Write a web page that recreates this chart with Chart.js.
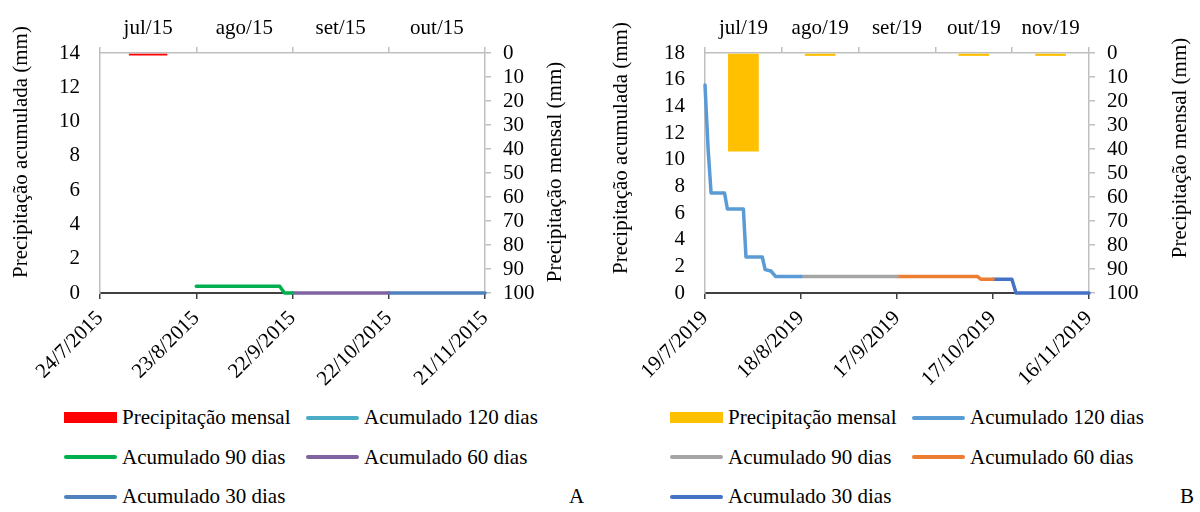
<!DOCTYPE html>
<html>
<head>
<meta charset="utf-8">
<script src="https://cdn.jsdelivr.net/npm/chart.js@4.4.0/dist/chart.umd.min.js"></script>
<style>
  body { margin: 0; background: #fff; font-family: "Liberation Serif", "Times New Roman", serif; }
  #wrap { position: relative; width: 1200px; height: 512px; overflow: hidden; }
  .panel { position: absolute; top: 0; width: 600px; height: 512px; }
  .panel canvas { position: absolute; left: 0; top: 0; }
  .legend { position: absolute; top: 398px; display: grid; grid-template-columns: 242px auto; grid-auto-rows: 39.5px; font-size: 21px; color: #000; }
  .item { display: flex; align-items: center; white-space: nowrap; }
  .sym { width: 53px; margin-right: 5px; }
  .tag { position: absolute; top: 484px; font-size: 21px; color: #000; }
</style>
</head>
<body>
<div id="wrap">
  <div class="panel" style="left:0">
    <canvas id="chartA" width="600" height="390"></canvas>
    <div class="legend" id="legendA" style="left:64px"></div>
    <div class="tag" style="left:569px">A</div>
  </div>
  <div class="panel" style="left:600px">
    <canvas id="chartB" width="600" height="390"></canvas>
    <div class="legend" id="legendB" style="left:70px"></div>
    <div class="tag" style="left:580px">B</div>
  </div>
</div>
<script>
// Painel A - 2015
const monthsA = ['jul/15', 'ago/15', 'set/15', 'out/15'];
const datesA = ['24/7/2015', '23/8/2015', '22/9/2015', '22/10/2015', '21/11/2015'];
const monthlyA = [1, null, null, null];
const acc120A = [];
const acc90A = [[30, 0.4], [56, 0.4], [57.5, 0], [60, 0]];
const acc60A = [[60, 0], [90, 0]];
const acc30A = [[90, 0], [120, 0]];

// Painel B - 2019
const monthsB = ['jul/19', 'ago/19', 'set/19', 'out/19', 'nov/19'];
const datesB = ['19/7/2019', '18/8/2019', '17/9/2019', '17/10/2019', '16/11/2019'];
const monthlyB = [41, 1.2, null, 1.2, 1.2];
const acc120B = [[0, 15.6], [1, 10.7], [1.9, 7.5], [6.1, 7.5], [7, 6.3], [12, 6.3], [12.8, 2.7],
                 [17.9, 2.7], [18.8, 1.75], [20.6, 1.65], [22.1, 1.23], [30, 1.23]];
const acc90B = [[30, 1.23], [60, 1.23]];
const acc60B = [[60, 1.23], [85.2, 1.23], [86.2, 1.03], [90, 1.03]];
const acc30B = [[90, 1.03], [95.9, 1.03], [97.2, 0], [120, 0]];

const FONT = { family: '"Liberation Serif", "Times New Roman", serif', size: 21 };

// titulos dos eixos verticais (ambos lidos de baixo para cima)
const sideTitles = {
    id: 'sideTitles',
    afterDraw(chart, args, opts) {
        const ctx = chart.ctx;
        ctx.save();
        ctx.font = `${FONT.size}px ${FONT.family}`;
        ctx.fillStyle = '#000';
        ctx.textAlign = 'center';
        ctx.textBaseline = 'middle';
        opts.items.forEach(t => {
            ctx.save();
            ctx.translate(t.x, t.y);
            ctx.rotate(-Math.PI / 2);
            ctx.fillText(t.text, 0, 0);
            ctx.restore();
        });
        ctx.restore();
    }
};

function toXY(pairs) {
    return pairs.map(p => ({ x: p[0], y: p[1] }));
}

function lineSet(label, pairs, color) {
    return {
        type: 'line',
        label: label,
        data: toXY(pairs),
        borderColor: color,
        backgroundColor: color,
        borderWidth: 3.5,
        pointRadius: 0,
        tension: 0,
        borderCapStyle: 'round',
        borderJoinStyle: 'round',
        clip: false,
        xAxisID: 'x',
        yAxisID: 'y'
    };
}

function makeChart(cfg) {
    const ctx = document.getElementById(cfg.canvas).getContext('2d');
    const chart = new Chart(ctx, {
        type: 'line',
        data: {
            datasets: [
                {
                    type: 'bar',
                    label: 'Precipitação mensal',
                    data: cfg.monthly,
                    backgroundColor: cfg.colors[0],
                    borderWidth: 0,
                    grouped: false,
                    barPercentage: 0.4,
                    categoryPercentage: 1,
                    xAxisID: 'xTop',
                    yAxisID: 'y2'
                },
                lineSet('Acumulado 120 dias', cfg.acc120, cfg.colors[1]),
                lineSet('Acumulado 90 dias', cfg.acc90, cfg.colors[2]),
                lineSet('Acumulado 60 dias', cfg.acc60, cfg.colors[3]),
                lineSet('Acumulado 30 dias', cfg.acc30, cfg.colors[4])
            ]
        },
        options: {
            responsive: false,
            animation: false,
            events: [],
            layout: { padding: 0 },
            plugins: {
                legend: { display: false },
                tooltip: { enabled: false },
                sideTitles: { items: cfg.titles }
            },
            scales: {
                x: {
                    type: 'linear',
                    position: 'bottom',
                    min: 0,
                    max: 120,
                    ticks: {
                        stepSize: 30,
                        autoSkip: false,
                        maxRotation: 45,
                        minRotation: 45,
                        padding: 7,
                        color: '#000',
                        font: FONT,
                        callback: (v, i) => cfg.dates[i]
                    },
                    grid: { drawOnChartArea: false, tickLength: 6, color: '#404040', lineWidth: 1.5 },
                    border: { color: '#404040', width: 2 },
                    afterFit: s => { s.height = 97; }
                },
                xTop: {
                    type: 'category',
                    position: 'top',
                    labels: cfg.months,
                    offset: true,
                    ticks: { color: '#000', font: FONT, padding: 6, autoSkip: false, maxRotation: 0 },
                    grid: { offset: true, drawOnChartArea: false, tickLength: 6, color: '#BFBFBF', lineWidth: 1.5 },
                    border: { color: '#BFBFBF', width: 1.5 },
                    afterFit: s => { s.height = 53; }
                },
                y: {
                    position: 'left',
                    min: 0,
                    max: cfg.yMax,
                    ticks: { stepSize: 2, autoSkip: false, padding: 20, color: '#000', font: FONT },
                    grid: { drawOnChartArea: false, drawTicks: false },
                    border: { color: '#BFBFBF', width: 1.5 },
                    afterFit: s => { s.width = cfg.leftW; }
                },
                y2: {
                    position: 'right',
                    reverse: true,
                    min: 0,
                    max: 100,
                    ticks: { stepSize: 10, autoSkip: false, padding: 12, color: '#000', font: FONT },
                    grid: { drawOnChartArea: false, tickLength: 6, color: '#BFBFBF', lineWidth: 1.5 },
                    border: { color: '#BFBFBF', width: 1.5 },
                    afterFit: s => { s.width = cfg.rightW; }
                }
            }
        },
        plugins: [sideTitles]
    });
    buildLegend(chart, document.getElementById(cfg.legend));
    return chart;
}

function buildLegend(chart, el) {
    chart.data.datasets.forEach(ds => {
        const item = document.createElement('div');
        item.className = 'item';
        const sym = document.createElement('span');
        sym.className = 'sym';
        sym.style.background = ds.backgroundColor;
        if (ds.type === 'bar') {
            sym.style.height = '11px';
        } else {
            sym.style.height = '4px';
            sym.style.borderRadius = '2px';
        }
        const txt = document.createElement('span');
        txt.textContent = ds.label;
        item.appendChild(sym);
        item.appendChild(txt);
        el.appendChild(item);
    });
}

makeChart({
    canvas: 'chartA', legend: 'legendA',
    months: monthsA, dates: datesA, monthly: monthlyA,
    acc120: acc120A, acc90: acc90A, acc60: acc60A, acc30: acc30A,
    colors: ['#FF0000', '#4BACC6', '#00B050', '#8064A2', '#4F81BD'],
    yMax: 14, leftW: 100, rightW: 115,
    titles: [
        { text: 'Precipitação acumulada (mm)', x: 21, y: 152 },
        { text: 'Precipitação mensal (mm)', x: 555, y: 172 }
    ]
});

makeChart({
    canvas: 'chartB', legend: 'legendB',
    months: monthsB, dates: datesB, monthly: monthlyB,
    acc120: acc120B, acc90: acc90B, acc60: acc60B, acc30: acc30B,
    colors: ['#FFC000', '#5B9BD5', '#A5A5A5', '#ED7D31', '#4472C4'],
    yMax: 18, leftW: 105, rightW: 111,
    titles: [
        { text: 'Precipitação acumulada (mm)', x: 21, y: 148 },
        { text: 'Precipitação mensal (mm)', x: 580, y: 148 }
    ]
});
</script>
</body>
</html>
